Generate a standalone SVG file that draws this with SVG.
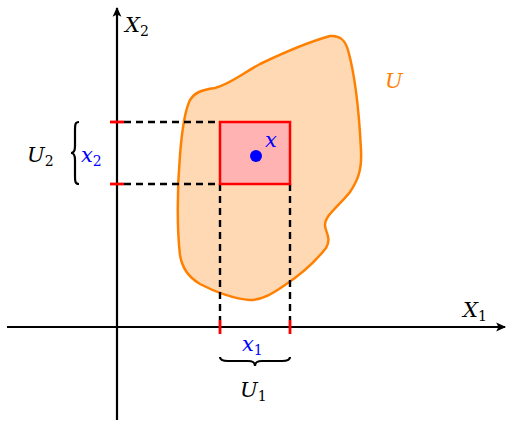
<svg xmlns="http://www.w3.org/2000/svg" width="512" height="427" viewBox="0 0 512 427">
<style>
.lbl{font-family:"DejaVu Serif",serif;font-style:italic;font-size:21px;}
.sub{font-family:"DejaVu Serif",serif;font-style:normal;font-size:14px;}
.axis{stroke:#000;stroke-width:2.2;fill:none;}
.dash{stroke:#000;stroke-width:2.4;stroke-dasharray:7,5;fill:none;}
.tick{stroke:#ff0000;stroke-width:2.8;}
.brace{stroke:#000;stroke-width:2.2;fill:none;}
</style>
<defs>
<marker id="arr" viewBox="0 0 10 10" refX="8" refY="5" markerWidth="5" markerHeight="5" orient="auto">
<path d="M0,1 L9,5 L0,9 L2,5 Z" fill="#000"/>
</marker>
</defs>
<g id="region-U">
<path d="M330,36 C340,35 345,40 348,50 C355,75 359,110 361,150 C362,170 358,180 350,192 C340,205 325,215 325,225 C325,232 332,238 326,248 C315,262 300,275 285,285 C272,294 262,300 250,300 C235,299 215,292 200,284 C188,277 182,268 180,255 C177,230 177,190 180,155 C182,130 185,110 190,100 C195,92 202,90 215,88 C230,84 240,75 260,64 C285,52 305,43 330,36 Z" fill="#ffd9b3" stroke="#ff8000" stroke-width="2.5"/>
<text class="lbl" x="385" y="88" fill="#ff8000">U</text>
</g>
<g id="connectors">
<line class="axis" x1="7" y1="327" x2="505" y2="327" marker-end="url(#arr)"/>
<line class="axis" x1="117" y1="420" x2="117" y2="8" marker-end="url(#arr)"/>
<path class="dash" d="M124,122 H220 M124,184 H220 M220,184 V320 M290,184 V320"/>
</g>
<g id="box-x">
<rect x="220" y="122" width="70" height="62" fill="#ffb3b3" stroke="#ff0000" stroke-width="2.5"/>
<circle cx="256" cy="156" r="6" fill="#0000ff"/>
<text class="lbl" x="265" y="147" fill="#0000ff">x</text>
</g>
<g id="ticks">
<line class="tick" x1="110" y1="122" x2="124" y2="122"/>
<line class="tick" x1="110" y1="184" x2="124" y2="184"/>
<line class="tick" x1="220" y1="320" x2="220" y2="334"/>
<line class="tick" x1="290" y1="320" x2="290" y2="334"/>
</g>
<g id="label-X2">
<text class="lbl" x="125" y="32" fill="#000">X<tspan class="sub" dy="4">2</tspan></text>
</g>
<g id="label-X1">
<text class="lbl" x="463" y="317" fill="#000">X<tspan class="sub" dy="4">1</tspan></text>
</g>
<g id="label-U2">
<text class="lbl" x="27" y="162" fill="#000">U<tspan class="sub" dy="4">2</tspan></text>
<path class="brace" d="M79,122 C75,122 75,125 75,130 L75,146 C75,151 74,153 71,153 C74,153 75,155 75,160 L75,176 C75,181 75,184 79,184"/>
<text class="lbl" x="81" y="162" fill="#0000ff">x<tspan class="sub" dy="4">2</tspan></text>
</g>
<g id="label-U1">
<text class="lbl" x="242" y="351" fill="#0000ff">x<tspan class="sub" dy="4">1</tspan></text>
<path class="brace" d="M220,357 C220,360 223,361 228,361 L248,361 C253,361 255,362 255,366 C255,362 257,361 262,361 L282,361 C287,361 290,360 290,357"/>
<text class="lbl" x="240" y="397" fill="#000">U<tspan class="sub" dy="4">1</tspan></text>
</g>
</svg>
